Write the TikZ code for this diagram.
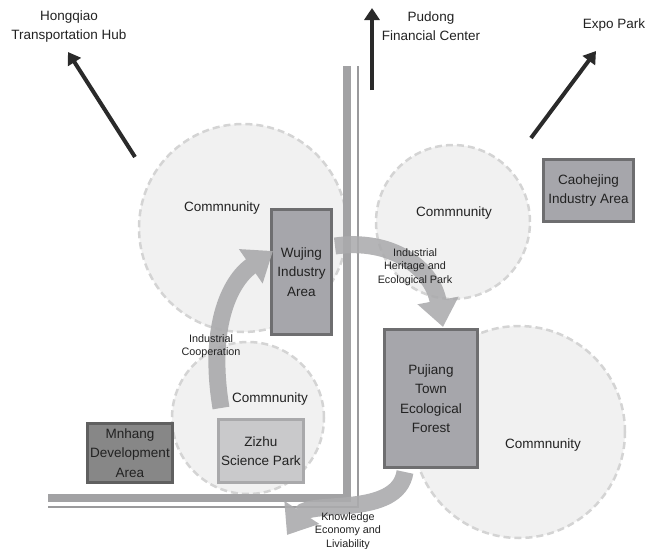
\documentclass[tikz,border=0pt]{standalone}
\usepackage{fontspec}
\setmainfont{Liberation Sans}
\usetikzlibrary{arrows.meta}
\definecolor{circfill}{HTML}{F1F1F1}
\definecolor{circline}{HTML}{D4D4D4}
\definecolor{boxfill}{HTML}{A6A6AB}
\definecolor{boxline}{HTML}{6E6E70}
\definecolor{darkfill}{HTML}{878787}
\definecolor{darkline}{HTML}{606060}
\definecolor{lightfill}{HTML}{C9C9CB}
\definecolor{lightline}{HTML}{A9A9AB}
\definecolor{roadthick}{HTML}{A2A2A4}
\definecolor{roadthin}{HTML}{9A9A9C}
\definecolor{flowc}{HTML}{ABABAD}
\definecolor{txt}{HTML}{222222}
\definecolor{blk}{HTML}{2A2A2A}
\tikzset{
  community/.style={circle, fill=circfill, draw=circline, line width=2.5pt, dash pattern=on 7pt off 4pt, inner sep=0pt},
  area/.style={draw=boxline, fill=boxfill, line width=3pt, align=center, inner sep=0pt, text=txt, font=\fontsize{13.5}{19.5}\selectfont},
  lbl/.style={align=center, text=txt, inner sep=0pt, font=\fontsize{13.5}{19}\selectfont},
  smalllbl/.style={align=center, text=txt, inner sep=0pt, font=\fontsize{10.8}{13.5}\selectfont},
  flow/.style={line width=17pt, draw=flowc, -{Triangle[width=40pt,length=27pt]}},
  dirarrow/.style={line width=4pt, draw=blk, -{Triangle[width=15pt,length=12pt]}}
}
\begin{document}
\begin{tikzpicture}[x=1pt,y=-1pt]
\useasboundingbox (0,0) rectangle (646,549);
% community circles
\node[community, minimum size=208pt] (c1) at (243,228) {};
\node[community, minimum size=154pt] (c2) at (453,222) {};
\node[community, minimum size=152pt] (c3) at (248,418) {};
\node[community, minimum size=212pt] (c4) at (519,432) {};
% roads
\coordinate (rtop1) at (346.5,66);
\coordinate (rcorner1) at (346.5,497.5);
\coordinate (rleft1) at (48,497.5);
\coordinate (rtop2) at (358,66);
\coordinate (rcorner2) at (358,507);
\coordinate (rleft2) at (48,507);
\draw[roadthick, line width=8pt] (rtop1) -- (rcorner1) -- (rleft1);
\draw[roadthin, line width=2pt] (rtop2) -- (rcorner2) -- (rleft2);
% community labels
\node[lbl] (l1) at (222,208) {Commnunity};
\node[lbl] (l2) at (454,213) {Commnunity};
\node[lbl] (l3) at (270,399) {Commnunity};
\node[lbl] (l4) at (543,445) {Commnunity};
% areas
\node[area, minimum width=60pt, minimum height=125pt] (wujing) at (301.5,272) {Wujing\\Industry\\Area};
\node[area, minimum width=90pt, minimum height=62pt] (caohejing) at (588.5,190.5) {Caohejing\\Industry Area};
\node[area, minimum width=93pt, minimum height=138pt] (pujiang) at (431,398.5) {Pujiang\\Town\\Ecological\\Forest};
\node[area, fill=darkfill, draw=darkline, minimum width=85pt, minimum height=59pt] (mnhang) at (130,453) {Mnhang\\Development\\Area};
\node[area, fill=lightfill, draw=lightline, minimum width=85pt, minimum height=63pt] (zizhu) at (261,451) {Zizhu\\Science Park};
% flows
\coordinate (f1s) at ([xshift=-40pt,yshift=10pt]zizhu.north);
\coordinate (f1e) at ([xshift=3pt,yshift=21pt]wujing.west);
\coordinate (f2s) at ([xshift=2pt,yshift=26pt]wujing.east);
\coordinate (f2e) at ([xshift=12pt,yshift=1pt]pujiang.north);
\coordinate (f3s) at ([xshift=-26pt,yshift=-3pt]pujiang.south);
\coordinate (f3e) at (287,535);
\begin{scope}[transparency group, opacity=0.92]
\draw[flow] (f1s) .. controls (208,330) and (228,282) .. (f1e);
\end{scope}
\begin{scope}[transparency group, opacity=0.88]
\draw[flow] (f2s) .. controls (392,238) and (432,268) .. (f2e);
\end{scope}
\begin{scope}[transparency group, opacity=0.9]
\draw[flow] (f3s) .. controls (398,518) and (310,500) .. (f3e);
\end{scope}
% flow labels
\node[smalllbl] (fl1) at (211,346) {Industrial\\Cooperation};
\node[smalllbl] (fl2) at (415,267) {Industrial\\Heritage and\\Ecological Park};
\node[smalllbl] (fl3) at (348,531) {Knowledge\\Economy and\\Liviability};
% direction arrows
\node[lbl] (hongqiao) at (69,27) {Hongqiao\\Transportation Hub};
\node[lbl] (pudong) at (431,26) {Pudong\\Financial Center};
\node[lbl] (expo) at (614,25) {Expo Park};
\coordinate (a1s) at (135,157);
\coordinate (a1e) at (68,52);
\coordinate (a2s) at (372,90);
\coordinate (a2e) at (372,8);
\coordinate (a3s) at (531,138);
\coordinate (a3e) at (596,51);
\draw[dirarrow] (a1s) -- (a1e);
\draw[dirarrow] (a2s) -- (a2e);
\draw[dirarrow] (a3s) -- (a3e);
\end{tikzpicture}
\end{document}
